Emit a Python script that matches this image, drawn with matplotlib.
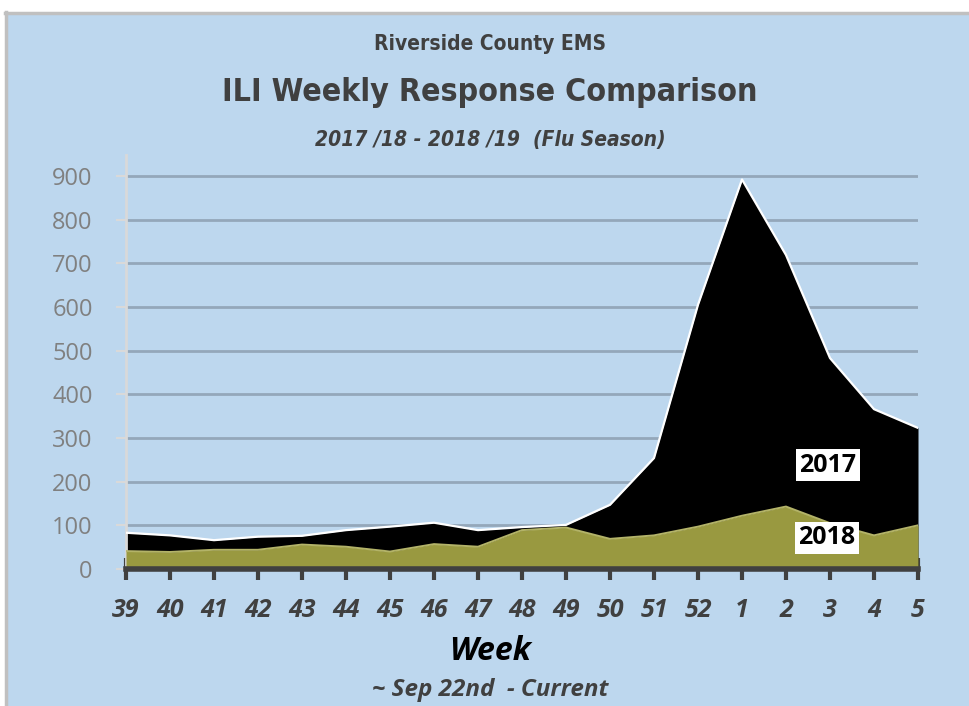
import matplotlib
matplotlib.use("Agg")
import matplotlib.pyplot as plt
from matplotlib.patches import Rectangle
from matplotlib.lines import Line2D

weeks = ["39", "40", "41", "42", "43", "44", "45", "46", "47", "48", "49",
         "50", "51", "52", "1", "2", "3", "4", "5"]
season_2017 = [83, 77, 66, 74, 76, 89, 97, 106, 89, 96, 101,
               147, 254, 605, 892, 719, 483, 366, 323]
season_2018 = [41, 39, 44, 44, 56, 51, 40, 57, 51, 89, 95,
               69, 77, 97, 122, 143, 105, 77, 100]
yticks = [0, 100, 200, 300, 400, 500, 600, 700, 800, 900]

BG = "#BDD7EE"
W, H = 969, 706
fig = plt.figure(figsize=(W / 100, H / 100), dpi=100)
fig.patch.set_facecolor("white")
# chart area background with border
fig.patches.append(Rectangle((5 / W, 0), 1, 1 - 12 / H, transform=fig.transFigure,
                             facecolor=BG, edgecolor="none", zorder=-2))
fig.lines.append(Line2D([5 / W, 1], [1 - 12.5 / H, 1 - 12.5 / H], transform=fig.transFigure,
                        color="#C0C0C0", lw=2.5, zorder=-1))
fig.lines.append(Line2D([5.5 / W, 5.5 / W], [0, 1 - 12 / H], transform=fig.transFigure,
                        color="#C0C0C0", lw=2.5, zorder=-1))

ax = fig.add_axes([126 / W, 1 - 569 / H, (918 - 126) / W, (569 - 155) / H])
ax.set_facecolor("none")
x = list(range(len(weeks)))

ax.fill_between(x, 0, season_2017, color="black", lw=0, zorder=2)
ax.plot(x, season_2017, color="white", lw=1.6, zorder=3)
ax.fill_between(x, 0, season_2018, color="#999940", lw=0, zorder=4)
ax.plot(x, season_2018, color="#B3B368", lw=1.4, zorder=5)

ax.set_xlim(0, len(weeks) - 1)
ax.set_ylim(0, 948)
ax.set_yticks(yticks)
ax.set_yticklabels([str(v) for v in yticks])
ax.set_xticks(x)
ax.set_xticklabels(weeks)

for v in yticks[1:]:
    ax.axhline(v, color="#94A7BA", lw=2, zorder=1)

for s in ["top", "right"]:
    ax.spines[s].set_visible(False)
ax.spines["left"].set_color("#D9D9D9")
ax.spines["left"].set_linewidth(2)
ax.spines["bottom"].set_color("#404040")
ax.spines["bottom"].set_linewidth(4)
ax.spines["bottom"].set_zorder(6)

ax.tick_params(axis="y", length=7, width=1.5, color="#D9D9D9", pad=17,
               labelsize=17, labelcolor="#808080")
ax.tick_params(axis="x", direction="inout", length=16, width=3, color="#404040",
               pad=13, labelsize=18, labelcolor="#404040")
for t in ax.get_yticklabels():
    t.set_family("Open Sans")
for t in ax.get_xticklabels():
    t.set_family("Open Sans")
    t.set_fontweight("bold")
    t.set_fontstyle("italic")
for t in ax.xaxis.get_major_ticks():
    t.tick1line.set_zorder(7)

box = dict(boxstyle="square,pad=0.15", facecolor="white", edgecolor="none")
ax.text(15.95, 238, "2017", ha="center", va="center", fontsize=18, fontweight="bold",
        family="Open Sans", color="black", bbox=box, zorder=8)
ax.text(15.93, 71, "2018", ha="center", va="center", fontsize=18, fontweight="bold",
        family="Open Sans", color="black", bbox=box, zorder=8)

title_kw = dict(ha="center", va="center", color="#404040", family="DejaVu Sans",
                fontstretch="condensed", fontweight="bold")
fig.text(490 / W, 1 - 44 / H, "Riverside County EMS", fontsize=15, **title_kw)
fig.text(490 / W, 1 - 93 / H, "ILI Weekly Response Comparison", fontsize=23, **title_kw)
fig.text(490 / W, 1 - 140 / H, "2017 /18 - 2018 /19  (Flu Season)", fontsize=15,
         style="italic", **title_kw)

fig.text(490 / W, 1 - 652 / H, "Week", ha="center", va="center", fontsize=23,
         fontweight="bold", style="italic", family="Open Sans", color="black")
fig.text(490 / W, 1 - 690 / H, "~ Sep 22nd  - Current", ha="center", va="center",
         fontsize=17.5, fontweight="bold", style="italic", family="Open Sans", color="#404040")

fig.savefig("out.png", dpi=100, facecolor="white")
